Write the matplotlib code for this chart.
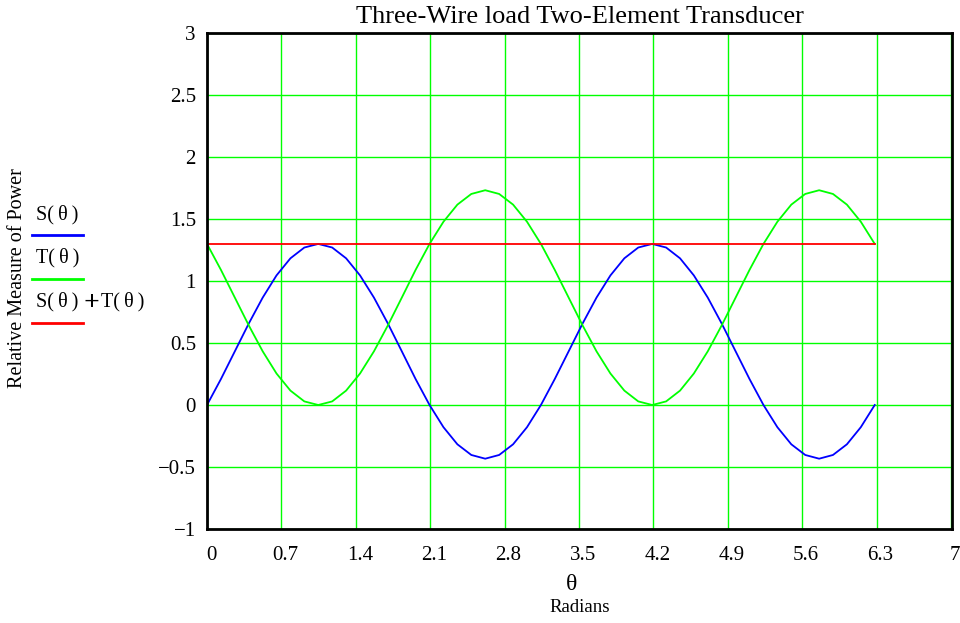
import matplotlib
matplotlib.use("Agg")

import matplotlib.pyplot as plt
import matplotlib.transforms as mtransforms
from matplotlib.lines import Line2D

theta = [0.000, 0.131, 0.262, 0.393, 0.524, 0.654, 0.785, 0.916, 1.047, 1.178,
         1.309, 1.440, 1.571, 1.702, 1.833, 1.963, 2.094, 2.225, 2.356, 2.487,
         2.618, 2.749, 2.880, 3.011, 3.142, 3.272, 3.403, 3.534, 3.665, 3.796,
         3.927, 4.058, 4.189, 4.320, 4.451, 4.581, 4.712, 4.843, 4.974, 5.105,
         5.236, 5.367, 5.498, 5.629, 5.760, 5.890, 6.021, 6.152, 6.283]
s_vals = [0.000, 0.209, 0.433, 0.657, 0.866, 1.045, 1.183, 1.270, 1.299, 1.270,
          1.183, 1.045, 0.866, 0.657, 0.433, 0.209, 0.000, -0.179, -0.317, -0.403,
          -0.433, -0.403, -0.317, -0.179, 0.000, 0.209, 0.433, 0.657, 0.866, 1.045,
          1.183, 1.270, 1.299, 1.270, 1.183, 1.045, 0.866, 0.657, 0.433, 0.209,
          0.000, -0.179, -0.317, -0.403, -0.433, -0.403, -0.317, -0.179, 0.000]
t_vals = [1.299, 1.090, 0.866, 0.642, 0.433, 0.254, 0.116, 0.029, 0.000, 0.029,
          0.116, 0.254, 0.433, 0.642, 0.866, 1.090, 1.299, 1.478, 1.616, 1.702,
          1.732, 1.702, 1.616, 1.478, 1.299, 1.090, 0.866, 0.642, 0.433, 0.254,
          0.116, 0.029, 0.000, 0.029, 0.116, 0.254, 0.433, 0.642, 0.866, 1.090,
          1.299, 1.478, 1.616, 1.702, 1.732, 1.702, 1.616, 1.478, 1.299]
sum_theta = [0.000, 6.283]
sum_vals = [1.299, 1.299]

x_ticks = [0, 0.7, 1.4, 2.1, 2.8, 3.5, 4.2, 4.9, 5.6, 6.3, 7]
y_ticks = [-1, -0.5, 0, 0.5, 1, 1.5, 2, 2.5, 3]

BLUE = "#0000ff"
GREEN = "#00ff00"
RED = "#ff0000"
TS = "\u2009"  # thin space, mathcad-style spacing inside the parens

plt.rcParams["font.family"] = ["Liberation Serif", "DejaVu Serif"]

fig = plt.figure(figsize=(9.6, 6.23), dpi=100)
ax = fig.add_axes([207 / 960, 94 / 623, 745 / 960, 496 / 623])

ax.plot(theta, s_vals, color=BLUE, lw=1.3)
ax.plot(theta, t_vals, color=GREEN, lw=1.3)
ax.plot(sum_theta, sum_vals, color=RED, lw=1.3)

ax.set_xlim(0, 7.01)
ax.set_ylim(-1, 3)
ax.set_xticks(x_ticks)
ax.set_xticklabels([f"{v:g}" for v in x_ticks])
ax.set_yticks(y_ticks)
ax.set_yticklabels([f"{v:g}".replace("-", "\u2212") for v in y_ticks])
ax.tick_params(length=0, labelsize=15)
ax.tick_params(axis="x", pad=12)
ax.tick_params(axis="y", pad=8)
# labels sit a few px right of the gridlines in the original
shift = mtransforms.ScaledTranslation(4 / 100, 0, fig.dpi_scale_trans)
for lbl in ax.get_xticklabels():
    lbl.set_transform(lbl.get_transform() + shift)
ax.grid(True, color=GREEN, lw=1.0)
ax.set_axisbelow(True)
for sp in ax.spines.values():
    sp.set_linewidth(2.0)
    sp.set_color("black")

fig.text(579.5 / 960, 1 - 17 / 623, "Three-Wire load Two-Element Transducer",
         ha="center", va="center", fontsize=19)
fig.text(572 / 960, 1 - 585 / 623, "\u03b8", ha="center", va="center", fontsize=17)
fig.text(580 / 960, 1 - 608 / 623, "Radians", ha="center", va="center", fontsize=13.5)
fig.text(18 / 960, 1 - 278 / 623, "Relative Measure of Power", rotation=90,
         ha="center", va="center", fontsize=14.5)

# manual legend: label above a short line sample
legend_items = [(f"S({TS}\u03b8{TS})", BLUE, 215, 235),
                (f"T({TS}\u03b8{TS})", GREEN, 258, 279),
                (f"S({TS}\u03b8{TS})", RED, 302, 323)]
for label, col, ty, ly in legend_items:
    fig.text(36 / 960, 1 - ty / 623, label, ha="left", va="center", fontsize=14.5)
    fig.add_artist(Line2D([32 / 960, 83 / 960], [1 - ly / 623, 1 - ly / 623],
                          color=col, lw=2.0, transform=fig.transFigure))
fig.text(91 / 960, 1 - 303 / 623, "+", ha="center", va="center",
         fontsize=20, fontweight="bold")
fig.text(101 / 960, 1 - 302 / 623, f"T({TS}\u03b8{TS})", ha="left", va="center",
         fontsize=14.5)

fig.savefig("out.png", dpi=100)
